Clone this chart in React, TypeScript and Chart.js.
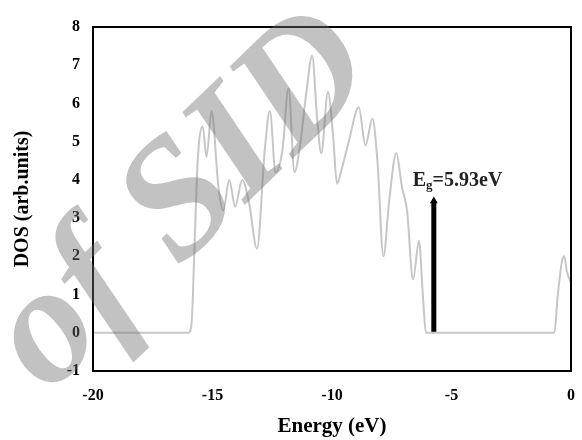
import React, { useEffect, useRef } from "react";
import { Chart, registerables } from "chart.js";
Chart.register(...registerables);

const energy = [
  -20, -16.0, -15.87, -15.74, -15.62, -15.41, -15.25, -15.04, -14.75, -14.55, -14.3, -14.05,
  -13.76, -13.47, -13.14, -12.81, -12.6, -12.36, -12.07, -11.82, -11.57, -11.36, -11.07, -10.83,
  -10.62, -10.45, -10.17, -9.96, -9.79, -9.59, -9.3, -8.88, -8.6, -8.31, -8.1, -7.85, -7.6,
  -7.31, -7.07, -6.86, -6.61, -6.36, -6.2, -6.07, -0.7, -0.55, -0.37, -0.28, -0.17, 0,
];
const dos = [
  0, 0, 0.3, 2.5, 4.5, 5.4, 4.6, 5.8, 3.8, 3.2, 4.0, 3.3,
  4.0, 3.4, 2.2, 4.8, 5.8, 4.2, 4.8, 6.4, 4.2, 4.8, 6.3, 7.25,
  5.6, 4.7, 6.3, 5.2, 3.9, 4.3, 5.0, 5.9, 4.9, 5.6, 4.5, 2.0, 3.5,
  4.7, 3.8, 3.2, 1.4, 2.4, 1.0, 0, 0, 1.0, 1.9, 2.0, 1.6, 1.3,
];
const arrowX = [-5.74, -5.74];
const arrowY = [0, 3.45];
const xTicks = [-20, -15, -10, -5, 0];
const yTicks = [-1, 0, 1, 2, 3, 4, 5, 6, 7, 8];
const gapLabel = { x: -6.62, y: 3.97, main: "E", sub: "g", rest: "=5.93eV" };
const xTitle = "Energy (eV)";
const yTitle = "DOS (arb.units)";
const watermark = "of SID";

const SERIF = "'Liberation Serif', 'Times New Roman', serif";

export default function App() {
  const ref = useRef<HTMLCanvasElement | null>(null);
  useEffect(() => {
    document.body.style.margin = "0";
    const canvas = ref.current!;
    const overlay = {
      id: "overlay",
      afterDatasetsDraw(chart: any) {
        const { ctx, chartArea: a, scales } = chart;
        ctx.save();
        ctx.strokeStyle = "#000";
        ctx.lineWidth = 2;
        ctx.strokeRect(a.left, a.top, a.right - a.left, a.bottom - a.top);
        const px = scales.x.getPixelForValue(gapLabel.x);
        const py = scales.y.getPixelForValue(gapLabel.y);
        ctx.fillStyle = "#222";
        ctx.textBaseline = "middle";
        ctx.textAlign = "left";
        ctx.font = `bold 20px ${SERIF}`;
        ctx.fillText(gapLabel.main, px, py);
        let w = ctx.measureText(gapLabel.main).width;
        ctx.font = `bold 13px ${SERIF}`;
        ctx.fillText(gapLabel.sub, px + w, py + 5);
        w += ctx.measureText(gapLabel.sub).width;
        ctx.font = `bold 20px ${SERIF}`;
        ctx.fillText(gapLabel.rest, px + w, py);
        ctx.restore();
      },
      afterDraw(chart: any) {
        const { ctx } = chart;
        ctx.save();
        ctx.translate(48, 395);
        ctx.rotate((-44 * Math.PI) / 180);
        ctx.font = `italic bold 168px ${SERIF}`;
        ctx.fillStyle = "rgba(110,110,110,0.42)";
        ctx.textBaseline = "alphabetic";
        ctx.fillText(watermark, 0, 0);
        ctx.restore();
      },
    };
    const chart = new Chart(canvas, {
      type: "line",
      data: {
        datasets: [
          {
            data: energy.map((x, i) => ({ x, y: dos[i] })),
            borderColor: "rgb(198,198,198)",
            borderWidth: 2,
            pointRadius: 0,
            cubicInterpolationMode: "monotone",
            fill: false,
          },
          {
            data: arrowX.map((x, i) => ({ x, y: arrowY[i] })),
            borderColor: "#000",
            backgroundColor: "#000",
            borderWidth: 5,
            pointRadius: [0, 4.5],
            pointStyle: "triangle",
            pointBorderWidth: 0,
            fill: false,
          },
        ],
      },
      options: {
        animation: false,
        responsive: false,
        layout: { padding: { top: 27, right: 5, left: 0, bottom: 0 } },
        plugins: { legend: { display: false }, tooltip: { enabled: false } },
        scales: {
          x: {
            type: "linear",
            min: -20,
            max: 0,
            grid: { display: false },
            border: { display: false },
            afterBuildTicks: (s: any) => {
              s.ticks = xTicks.map((v) => ({ value: v }));
            },
            afterFit: (s: any) => {
              s.height = 69;
            },
            ticks: {
              padding: 7,
              color: "#000",
              maxRotation: 0,
              font: { family: SERIF, size: 16, weight: "bold" },
              callback: (v: any) => String(v),
            },
            title: {
              display: true,
              text: xTitle,
              color: "#000",
              font: { family: SERIF, size: 21, weight: "bold" },
              padding: { top: 0, bottom: 1 },
            },
          },
          y: {
            min: -1,
            max: 8,
            grid: { display: false },
            border: { display: false },
            afterBuildTicks: (s: any) => {
              s.ticks = yTicks.map((v) => ({ value: v }));
            },
            afterFit: (s: any) => {
              s.width = 93;
            },
            ticks: {
              padding: 5,
              color: "#000",
              font: { family: SERIF, size: 16, weight: "bold" },
              callback: (v: any) => String(v),
            },
            title: {
              display: true,
              text: yTitle,
              color: "#000",
              font: { family: SERIF, size: 20, weight: "bold" },
              padding: { top: 11, bottom: 0 },
            },
          },
        },
      },
      plugins: [overlay],
    } as any);
    return () => chart.destroy();
  }, []);
  return (
    <div style={{ position: "absolute", left: 0, top: 0, width: 582, height: 440 }}>
      <canvas ref={ref} width={582} height={440} />
    </div>
  );
}
